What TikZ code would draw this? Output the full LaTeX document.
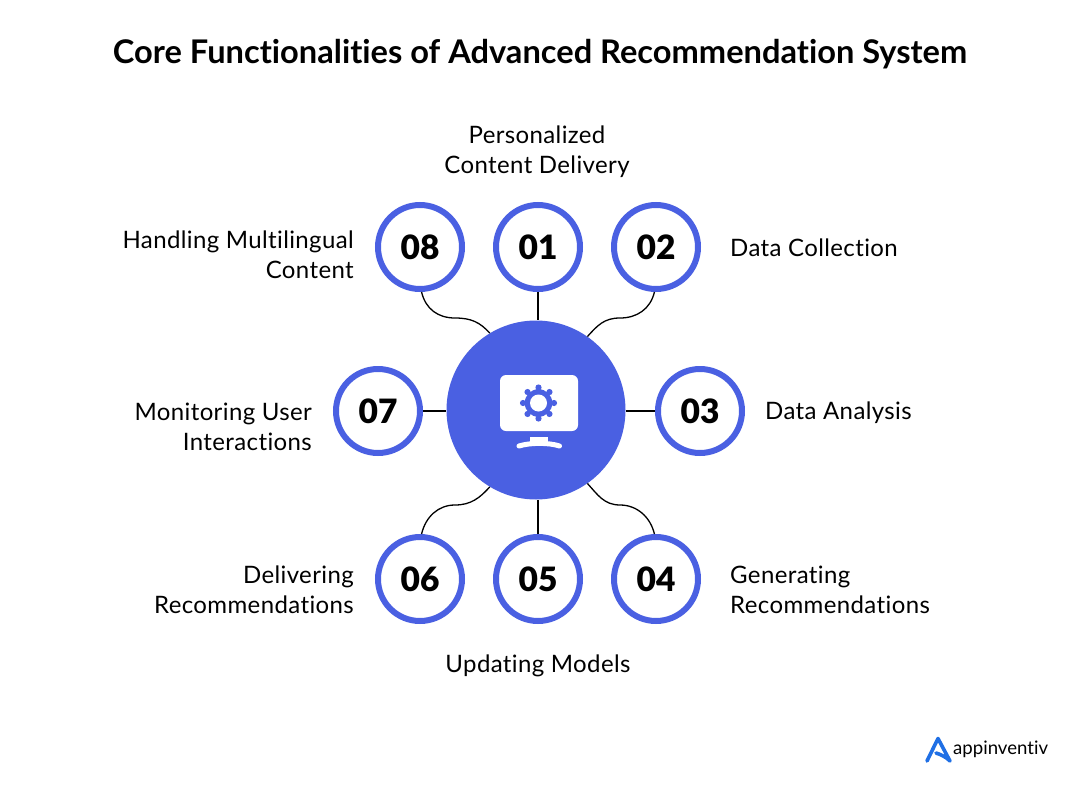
\documentclass[tikz,border=0pt]{standalone}
\usepackage{fontspec}
\setmainfont[LetterSpace=1.6,Ligatures=NoCommon]{Lato}
\newfontfamily\numfont{Lato Black}
\newfontfamily\logofont[Ligatures=NoCommon]{Lato}
\definecolor{hubblue}{HTML}{4A60E2}
\definecolor{logoblue}{HTML}{1F6FE5}
\tikzset{
  x=1pt,y=-1pt,
  numring/.style={circle,draw=hubblue,line width=6pt,fill=white,minimum size=84pt,inner sep=0pt,font=\numfont\fontsize{33.5}{33}\selectfont},
  hubdisc/.style={circle,fill=hubblue,minimum size=179pt,inner sep=0pt},
  lbl/.style={font=\fontsize{24}{30}\selectfont,inner sep=0pt},
  lblL/.style={lbl,align=right,anchor=east},
  lblR/.style={lbl,align=left,anchor=west},
  lblC/.style={lbl,align=center,anchor=center},
  wire/.style={draw=black,line width=1.3pt},
}
\begin{document}
\begin{tikzpicture}
\useasboundingbox (0,0) rectangle (1080,790);
\fill[white] (0,0) rectangle (1080,790);
\node[font=\logofont\bfseries\fontsize{32.6}{33}\selectfont,inner sep=0pt] (title) at (540,54) {Core Functionalities of Advanced Recommendation System};
\node[hubdisc] (hub) at (536,410) {};
\node[numring] (c01) at (538,247) {01};
\node[numring] (c02) at (656,247) {02};
\node[numring] (c03) at (700,411) {03};
\node[numring] (c04) at (656,579) {04};
\node[numring] (c05) at (538,579) {05};
\node[numring] (c06) at (420,579) {06};
\node[numring] (c07) at (378,411) {07};
\node[numring] (c08) at (420,247) {08};
\node[lblC] (t01) at (537,152) {Personalized\\Content Delivery};
\node[lblR] (t02) at (730,248) {Data Collection};
\node[lblR] (t03) at (765,413) {Data Analysis};
\node[lblR] (t04) at (730,590) {Generating\\Recommendations};
\node[lblC] (t05) at (538,666) {Updating Models};
\node[lblL] (t06) at (354,590) {Delivering\\Recommendations};
\node[lblL] (t07) at (312,427) {Monitoring User\\Interactions};
\node[lblL] (t08) at (354,255) {Handling Multilingual\\Content};
% connectors
\coordinate (w8) at (455,318);
\coordinate (w2) at (620,318);
\coordinate (w6) at (455,505);
\coordinate (w4) at (620,505);
\draw[wire] (c01.south) -- (c01.south |- hub.north);
\draw[wire] (c05.north) -- (c05.north |- hub.south);
\draw[wire] (c03.west) -- (c03.west -| hub.east);
\draw[wire] (c07.east) -- (c07.east -| hub.west);
\draw[wire] (c08.-88) .. controls +(4,17) and +(-17,0) .. (w8) .. controls +(16,0) and +(-10,-11) .. (hub.121);
\draw[wire] (c02.-92) .. controls +(-4,17) and +(17,0) .. (w2) .. controls +(-16,0) and +(10,-11) .. (hub.55);
\draw[wire] (c06.88) .. controls +(4,-17) and +(-17,0) .. (w6) .. controls +(16,0) and +(-10,11) .. (hub.-121);
\draw[wire] (c04.92) .. controls +(-4,-17) and +(17,0) .. (w4) .. controls +(-16,0) and +(10,11) .. (hub.-55);
% monitor icon
\fill[white,rounded corners=6pt] (500,375) rectangle (578,431);
\foreach \a in {0,45,...,315}{\fill[hubblue] (538.5,403)+(\a:15.5) circle (3.1);}
\fill[hubblue] (538.5,403) circle (13.8);
\fill[white] (538.5,403) circle (8.5);
\fill[white] (530,436.5) rectangle (547.5,443);
\draw[white,line width=5pt,line cap=round] (519,446) .. controls (530,442.5) and (549,442.5) .. (559.5,446);
% logo
\draw[logoblue,line width=3.6pt,line join=round,line cap=round] (927,761) -- (938,738.5) -- (950,761) .. controls (946,757) and (941,754.5) .. (936,753);
\node[font=\logofont\fontsize{18.6}{19}\selectfont,inner sep=0pt,anchor=west] (logo) at (953,749) {appinventiv};
\end{tikzpicture}
\end{document}
